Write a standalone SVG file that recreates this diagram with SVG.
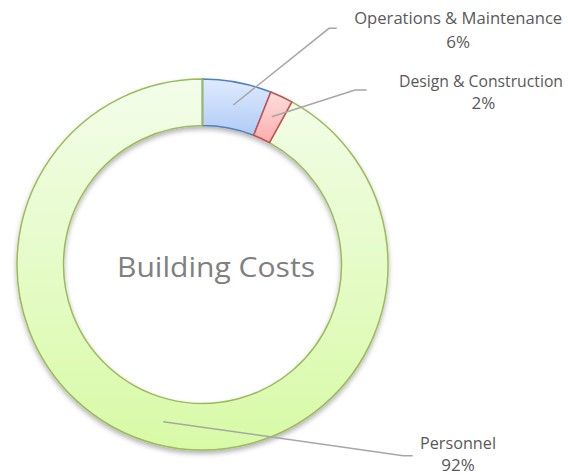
<svg xmlns="http://www.w3.org/2000/svg" width="568" height="475" viewBox="0 0 568 475">
  <defs>
    <linearGradient id="gGreen" gradientUnits="userSpaceOnUse" x1="0" y1="79" x2="0" y2="450">
      <stop offset="0" stop-color="#F3FDEA"/>
      <stop offset="1" stop-color="#D8FAA6"/>
    </linearGradient>
    <linearGradient id="gBlue" x1="0" y1="0" x2="0" y2="1">
      <stop offset="0" stop-color="#E0EBFE"/>
      <stop offset="1" stop-color="#AFCBF6"/>
    </linearGradient>
    <linearGradient id="gRed" x1="0" y1="0" x2="0" y2="1">
      <stop offset="0" stop-color="#FFDEDE"/>
      <stop offset="1" stop-color="#FDACAC"/>
    </linearGradient>
    <filter id="shadow" x="-10%" y="-10%" width="120%" height="125%">
      <feDropShadow dx="0" dy="3" stdDeviation="2.5" flood-color="#000" flood-opacity="0.3"/>
    </filter>
  </defs>
  <style>
    .lbl { font-family: "Open Sans", "Noto Sans", "DejaVu Sans", sans-serif; font-size: 17px; fill: #595959; }
    .title { font-family: "Open Sans", "Noto Sans", "DejaVu Sans", sans-serif; font-size: 28px; fill: #808080; }
    .leader { fill: none; stroke: #A6A6A6; stroke-width: 1.5; }
    .seg { stroke-width: 1.5; stroke-linejoin: round; }
  </style>
  <rect width="568" height="475" fill="#FFFFFF"/>

  <g id="ring" filter="url(#shadow)">
    <g id="node-personnel">
      <path class="seg" fill="url(#gGreen)" stroke="#9BBB59" d="M291.86,101.94 A185.5,185.5 0 1 1 202.5,79 L202.5,125.5 A139,139 0 1 0 269.46,142.69 Z"/>
    </g>
    <g id="node-operations">
      <path class="seg" fill="url(#gBlue)" stroke="#4F81BD" d="M202.5,79 A185.5,185.5 0 0 1 270.79,92.03 L253.67,135.26 A139,139 0 0 0 202.5,125.5 Z"/>
    </g>
    <g id="node-design">
      <path class="seg" fill="url(#gRed)" stroke="#C0504D" d="M270.79,92.03 A185.5,185.5 0 0 1 291.86,101.94 L269.46,142.69 A139,139 0 0 0 253.67,135.26 Z"/>
    </g>
  </g>
  <line x1="202.5" y1="79" x2="202.5" y2="125.5" stroke="#9BBB59" stroke-width="1.5"/>

  <g id="center-title">
    <text class="title" x="216" y="276.5" text-anchor="middle" textLength="198" lengthAdjust="spacingAndGlyphs">Building Costs</text>
  </g>

  <g id="connectors">
    <polyline class="leader" points="233.3,105 329,28.3 336.7,28.3"/>
    <polyline class="leader" points="271.7,116.7 355,90 366.7,90"/>
    <polyline class="leader" points="163.3,421.7 403.3,455.7 412.7,455.7"/>
  </g>

  <g id="label-operations">
    <text class="lbl" x="458.2" y="23.5" text-anchor="middle" textLength="208" lengthAdjust="spacingAndGlyphs">Operations &amp; Maintenance</text>
    <text class="lbl" x="458.2" y="48.3" text-anchor="middle">6%</text>
  </g>
  <g id="label-design">
    <text class="lbl" x="481" y="87.3" text-anchor="middle" style="font-size:16px" textLength="164" lengthAdjust="spacingAndGlyphs">Design &amp; Construction</text>
    <text class="lbl" x="483.3" y="108.8" text-anchor="middle">2%</text>
  </g>
  <g id="label-personnel">
    <text class="lbl" x="458" y="449.3" text-anchor="middle" textLength="76" lengthAdjust="spacingAndGlyphs">Personnel</text>
    <text class="lbl" x="458" y="471" text-anchor="middle">92%</text>
  </g>
</svg>
